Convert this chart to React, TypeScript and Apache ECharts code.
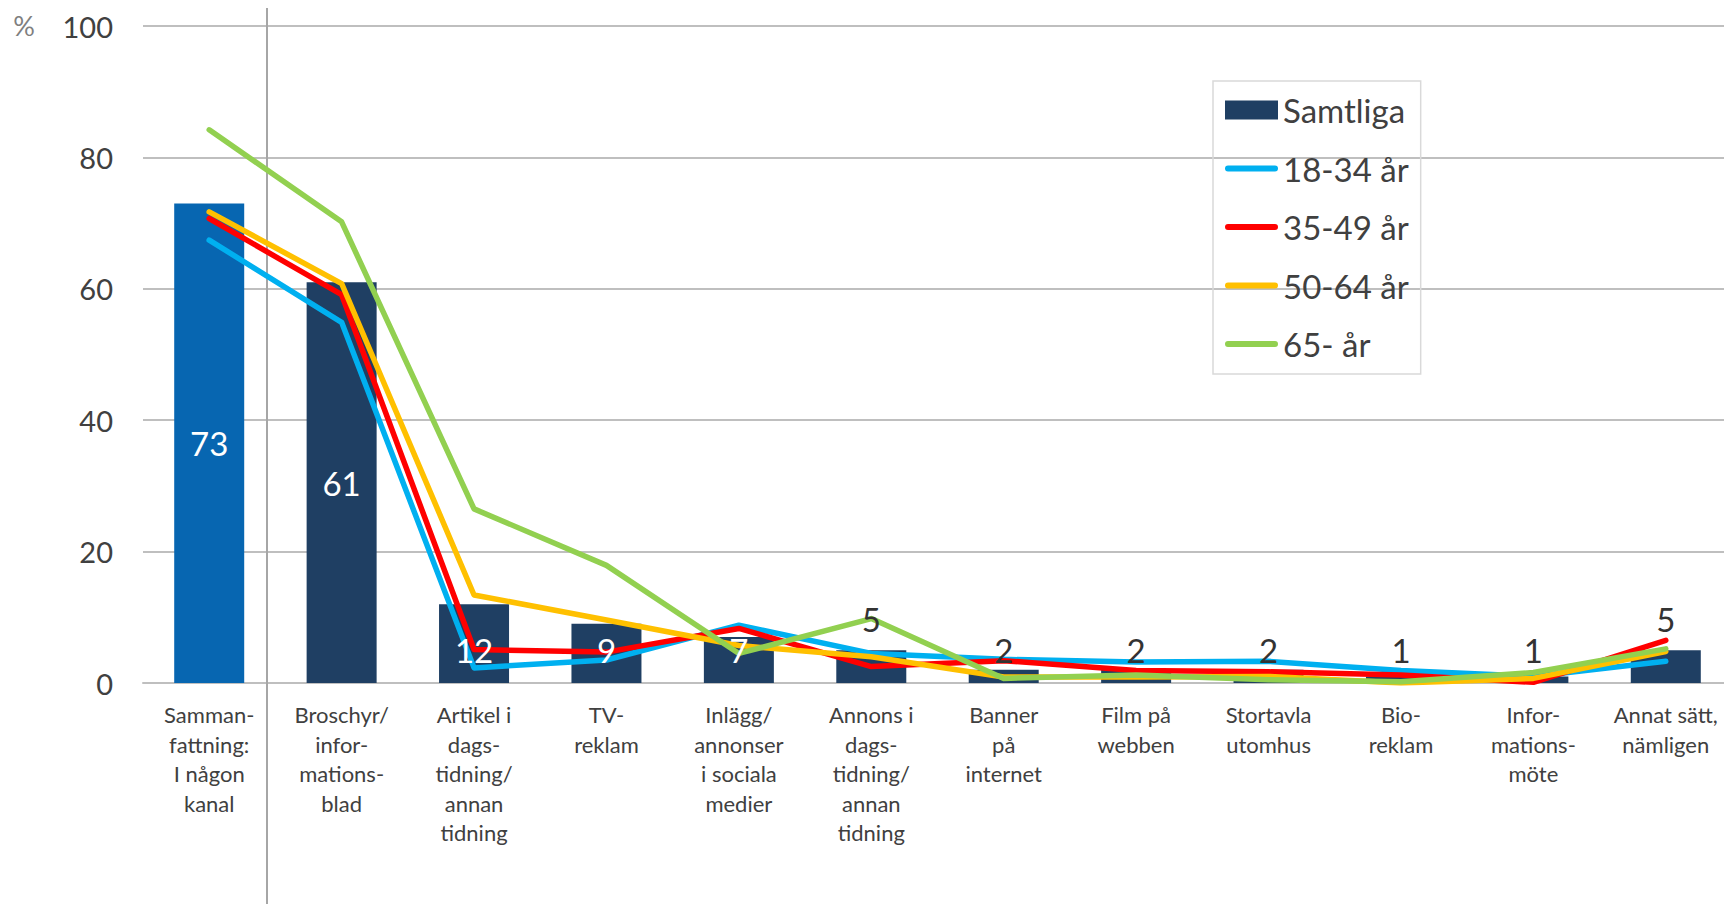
import React, { useEffect, useRef } from "react";
import * as echarts from "echarts";

// Channel categories (x axis)
const categories = [
  "Samman-\nfattning:\nI någon\nkanal",
  "Broschyr/\ninfor-\nmations-\nblad",
  "Artikel i\ndags-\ntidning/\nannan\ntidning",
  "TV-\nreklam",
  "Inlägg/\nannonser\ni sociala\nmedier",
  "Annons i\ndags-\ntidning/\nannan\ntidning",
  "Banner\npå\ninternet",
  "Film på\nwebben",
  "Stortavla\nutomhus",
  "Bio-\nreklam",
  "Infor-\nmations-\nmöte",
  "Annat sätt,\nnämligen",
];

// All respondents (bars), percent
const samtliga = [73, 61, 12, 9, 7, 5, 2, 2, 2, 1, 1, 5];

// Age groups (lines), percent
const age18to34 = [67.4, 54.9, 2.3, 3.5, 8.8, 4.5, 3.6, 3.2, 3.3, 1.9, 1.0, 3.3];
const age35to49 = [70.7, 59.1, 5.1, 4.7, 8.3, 2.5, 3.4, 1.9, 1.7, 1.2, 0.1, 6.5];
const age50to64 = [71.7, 60.8, 13.4, 9.6, 5.7, 4.0, 0.9, 0.9, 1.0, 0.0, 0.7, 4.8];
const age65plus = [84.2, 70.2, 26.5, 17.9, 4.5, 9.8, 0.7, 1.2, 0.5, 0.2, 1.6, 5.2];

// Value axis
const yMin = 0;
const yMax = 100;
const yStep = 20;

const seriesNames = ["Samtliga", "18-34 år", "35-49 år", "50-64 år", "65- år"];

const FONT = "Lato, 'Open Sans', 'DejaVu Sans', sans-serif";
const TEXT = "#404040";
const NAVY = "#1F3F63";
const LINE_ICON = "path://M3,0 L50,0 A3,3 0 0 1 50,6 L3,6 A3,3 0 0 1 3,0 Z";

export default function App() {
  const ref = useRef<HTMLDivElement>(null);

  useEffect(() => {
    if (!ref.current) return;
    const chart = echarts.init(ref.current, null, { renderer: "svg" });

    const barData = samtliga.map((v, i) => ({
      value: v,
      itemStyle: i === 0 ? { color: "#0766B1" } : undefined,
    }));

    // Value labels live on an invisible twin of the bars so they sit above the lines
    const labelData = samtliga.map((v) => {
      let label: any;
      if (v >= 50) {
        label = { position: "inside", color: "#ffffff" };
      } else if (v >= 7) {
        label = { position: "insideBottom", distance: 17, color: "#ffffff" };
      } else if (v >= 5) {
        label = { position: "top", distance: 15, color: "#333333" };
      } else {
        label = { position: "insideBottom", distance: 17, color: "#333333" };
      }
      return { value: v, label };
    });

    const lineSeries = (name: string, data: number[], color: string) => ({
      name,
      type: "line",
      data,
      symbol: "none",
      color,
      itemStyle: { color },
      lineStyle: { color, width: 5.5, cap: "round", join: "round" },
      z: 3,
    });

    chart.setOption({
      animation: false,
      backgroundColor: "#ffffff",
      textStyle: { fontFamily: FONT },
      grid: { left: 143, right: 0, top: 26, bottom: 221, containLabel: false },
      legend: {
        orient: "vertical",
        left: 1213,
        top: 81,
        padding: [12, 12, 13, 12],
        itemGap: 24.5,
        itemWidth: 53,
        itemHeight: 19,
        itemTextGap: 5,
        borderColor: "#D9D9D9",
        borderWidth: 1.5,
        symbolKeepAspect: true,
        selectedMode: false,
        textStyle: { fontSize: 33, lineHeight: 34, color: TEXT, fontFamily: FONT },
        data: [
          { name: seriesNames[0], icon: "rect", itemStyle: { color: NAVY } },
          { name: seriesNames[1], icon: LINE_ICON, itemStyle: { color: "#00B0F0" } },
          { name: seriesNames[2], icon: LINE_ICON, itemStyle: { color: "#FF0000" } },
          { name: seriesNames[3], icon: LINE_ICON, itemStyle: { color: "#FFC000" } },
          { name: seriesNames[4], icon: LINE_ICON, itemStyle: { color: "#92D050" } },
        ],
      },
      xAxis: {
        type: "category",
        data: categories,
        axisTick: { show: false },
        axisLine: { lineStyle: { color: "#BFBFBF", width: 2 } },
        axisLabel: {
          interval: 0,
          margin: 17,
          color: TEXT,
          fontSize: 22,
          lineHeight: 29.5,
          fontFamily: FONT,
          align: "center",
        },
      },
      yAxis: {
        type: "value",
        min: yMin,
        max: yMax,
        interval: yStep,
        axisLine: { show: false },
        axisTick: { show: false },
        splitLine: { lineStyle: { color: "#BFBFBF", width: 2 } },
        axisLabel: { margin: 30, color: TEXT, fontSize: 29, fontFamily: FONT },
      },
      graphic: [
        {
          type: "line",
          shape: { x1: 267, y1: 8, x2: 267, y2: 904 },
          style: { stroke: "#A6A6A6", lineWidth: 2 },
          z: 1,
        },
        {
          type: "text",
          x: 24,
          y: 25,
          style: {
            text: "%",
            fontSize: 27,
            fontFamily: FONT,
            fill: "#7F7F7F",
            align: "center",
            verticalAlign: "middle",
          },
        },
      ],
      series: [
        {
          name: seriesNames[0],
          type: "bar",
          data: barData,
          barWidth: 70,
          color: NAVY,
          itemStyle: { color: NAVY },
          z: 2,
        },
        lineSeries(seriesNames[1], age18to34, "#00B0F0"),
        lineSeries(seriesNames[2], age35to49, "#FF0000"),
        lineSeries(seriesNames[3], age50to64, "#FFC000"),
        lineSeries(seriesNames[4], age65plus, "#92D050"),
        {
          name: "samtliga-labels",
          type: "bar",
          data: labelData,
          barWidth: 70,
          barGap: "-100%",
          silent: true,
          itemStyle: { color: "rgba(0,0,0,0)" },
          label: {
            show: true,
            fontSize: 33,
            lineHeight: 33,
            fontFamily: FONT,
          },
          z: 4,
        },
      ],
    });

    return () => chart.dispose();
  }, []);

  // The plot runs slightly past the right edge of the window; the fixed
  // container is clipped by the viewport, so no scrollbar appears.
  return (
    <div
      ref={ref}
      style={{ position: "fixed", left: 0, top: 0, width: 1732, height: 904, background: "#ffffff" }}
    />
  );
}
